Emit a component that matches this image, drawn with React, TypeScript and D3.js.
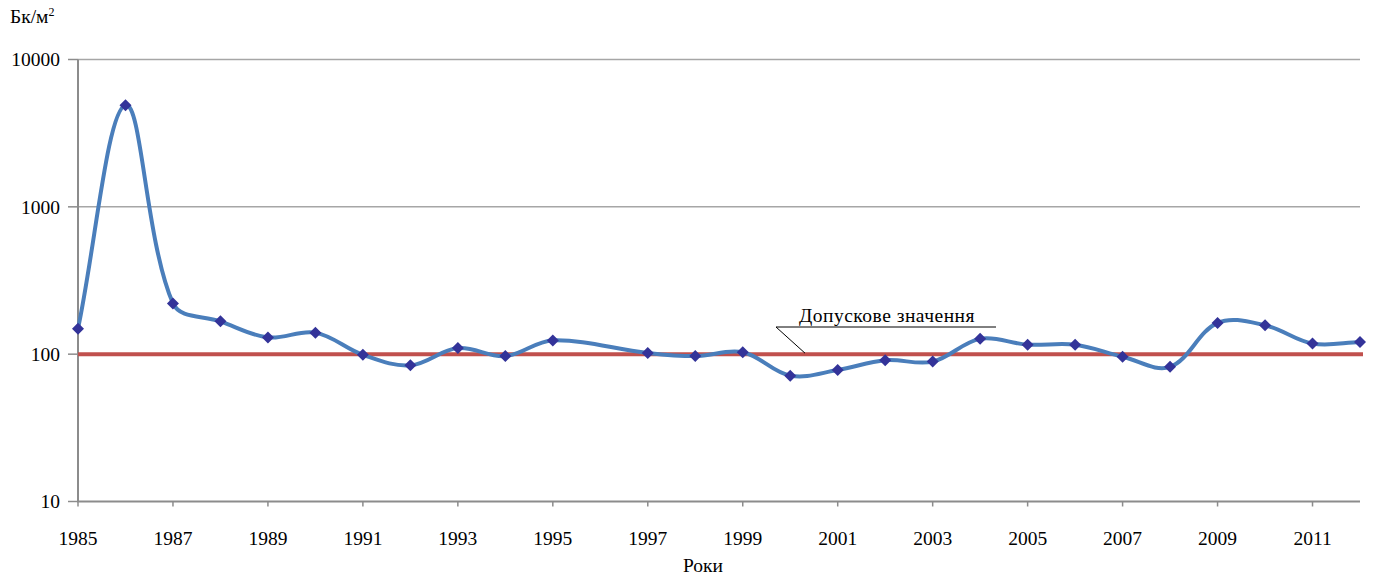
import React from "react";
import * as d3 from "d3";

// Annual surface contamination density, Bq/m² (log scale); 1996 has no measurement
const years = [1985, 1986, 1987, 1988, 1989, 1990, 1991, 1992, 1993, 1994, 1995, 1997, 1998, 1999, 2000, 2001, 2002, 2003, 2004, 2005, 2006, 2007, 2008, 2009, 2010, 2011, 2012];
const values = [149, 4900, 221, 167, 130, 140, 99, 84, 110, 97, 124, 102, 97, 103, 71.5, 78, 91, 89, 127, 116, 116, 96, 82, 163, 157, 118, 121];
const xTickYears = [1985, 1987, 1989, 1991, 1993, 1995, 1997, 1999, 2001, 2003, 2005, 2007, 2009, 2011];
const yTickValues = [10, 100, 1000, 10000];
const limitValue = 100;
const limitLabel = "Допускове значення";
const xTitle = "Роки";

const W = 1380;
const H = 575;
const left = 78;
const right = 1360;
const top = 59.5;
const bottom = 501.5;
const font = "'Liberation Serif', 'Times New Roman', serif";
const fs = 19.5;

// Smoothed polyline: cubic Bézier segments whose control arms follow the
// neighbouring chord and are shared in proportion to adjacent segment lengths.
function smoothPath(pts: [number, number][], s = 0.36): string {
  const p = d3.path();
  const n = pts.length;
  const ctrl = pts.map((pt, i) => {
    const prev = pts[Math.max(0, i - 1)];
    const next = pts[Math.min(n - 1, i + 1)];
    const tx = next[0] - prev[0];
    const ty = next[1] - prev[1];
    const d1 = Math.hypot(pt[0] - prev[0], pt[1] - prev[1]);
    const d2 = Math.hypot(next[0] - pt[0], next[1] - pt[1]);
    const sum = d1 + d2 || 1;
    return {
      inX: pt[0] - tx * s * (d1 / sum),
      inY: pt[1] - ty * s * (d1 / sum),
      outX: pt[0] + tx * s * (d2 / sum),
      outY: pt[1] + ty * s * (d2 / sum),
    };
  });
  p.moveTo(pts[0][0], pts[0][1]);
  for (let i = 1; i < n; i++) {
    p.bezierCurveTo(ctrl[i - 1].outX, ctrl[i - 1].outY, ctrl[i].inX, ctrl[i].inY, pts[i][0], pts[i][1]);
  }
  return p.toString();
}

export default function App() {
  const x = d3.scaleLinear().domain([1985, 2012]).range([left, right]);
  const y = d3.scaleLog().domain([10, 10000]).range([bottom, top]);

  const pts: [number, number][] = years.map((yr, i) => [x(yr), y(values[i])]);
  const line = smoothPath(pts);

  const limY = y(limitValue);
  const diamond = (cx: number, cy: number, r: number) =>
    `M${cx},${cy - r}L${cx + r},${cy}L${cx},${cy + r}L${cx - r},${cy}Z`;

  return (
    <svg width={W} height={H} style={{ position: "absolute", left: 0, top: 0, background: "#fff" }}>
      {/* horizontal grid + y ticks */}
      {yTickValues.map((v) => (
        <g key={v}>
          {v > 10 && (
            <line x1={left} x2={right} y1={y(v)} y2={y(v)} stroke="#a6a6a6" strokeWidth={1.5} />
          )}
          <line x1={left - 10} x2={left} y1={y(v)} y2={y(v)} stroke="#8c8c8c" strokeWidth={1.5} />
          <text x={60} y={y(v)} dy="0.35em" textAnchor="end" fontFamily={font} fontSize={fs} fill="#000">
            {v}
          </text>
        </g>
      ))}
      {/* axes */}
      <line x1={left} x2={left} y1={top} y2={bottom} stroke="#8c8c8c" strokeWidth={2} />
      <line x1={left - 1} x2={right} y1={bottom} y2={bottom} stroke="#8c8c8c" strokeWidth={2} />
      {xTickYears.map((yr) => (
        <g key={yr}>
          <line x1={x(yr)} x2={x(yr)} y1={bottom} y2={bottom + 5} stroke="#8c8c8c" strokeWidth={1.5} />
          <text x={x(yr)} y={545} textAnchor="middle" fontFamily={font} fontSize={fs} fill="#000">
            {yr}
          </text>
        </g>
      ))}
      {/* tolerance level */}
      <line x1={left} x2={right + 3} y1={limY} y2={limY} stroke="#c0504d" strokeWidth={4} />
      {/* series */}
      <path d={line} fill="none" stroke="#4a7ebb" strokeWidth={4} strokeLinejoin="round" />
      {pts.map(([cx, cy], i) => (
        <path key={i} d={diamond(cx, cy, 6)} fill="#333399" />
      ))}
      {/* callout for tolerance level */}
      <line x1={776} x2={996} y1={327} y2={327} stroke="#000" strokeWidth={1} />
      <line x1={776} x2={805} y1={327} y2={limY - 1} stroke="#000" strokeWidth={1} />
      <text x={887} y={322} textAnchor="middle" fontFamily={font} fontSize={fs} letterSpacing={0.5} fill="#000">
        {limitLabel}
      </text>
      {/* axis titles */}
      <text x={10} y={23} fontFamily={font} fontSize={fs} fill="#000">
        Бк/м<tspan dy={-7} fontSize={12}>2</tspan>
      </text>
      <text x={703} y={572} textAnchor="middle" fontFamily={font} fontSize={fs} fill="#000">
        {xTitle}
      </text>
    </svg>
  );
}
